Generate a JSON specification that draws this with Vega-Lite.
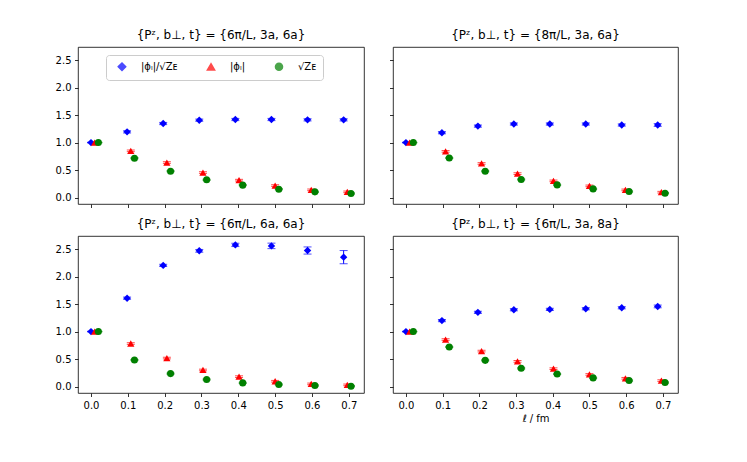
{
  "$schema": "https://vega.github.io/schema/vega-lite/v6.json",
  "padding": {"left": 54, "top": 28, "right": 5, "bottom": 5},
  "background": "white",
  "config": {
    "font": "DejaVu Sans",
    "view": {"stroke": "#000000", "strokeWidth": 0.8},
    "axis": {"domain": false, "grid": false, "tickColor": "#000000", "tickSize": 3.5, "tickWidth": 0.8, "labelColor": "#000000", "labelFontSize": 10, "labelPadding": 3.5, "labelFont": "DejaVu Sans", "titleFont": "DejaVu Sans", "titleFontWeight": "normal", "titleFontSize": 10, "titleColor": "#000000"},
    "title": {"font": "DejaVu Sans", "fontSize": 12, "fontWeight": "normal", "color": "#000000", "offset": 5}
  },
  "data": {"values": [
    {"p":"a","s":"r","x":0,"y":1.0,"e":0.005},{"p":"a","s":"r","x":0.098,"y":1.195,"e":0.02},{"p":"a","s":"r","x":0.196,"y":1.347,"e":0.02},{"p":"a","s":"r","x":0.294,"y":1.408,"e":0.02},{"p":"a","s":"r","x":0.392,"y":1.42,"e":0.02},{"p":"a","s":"r","x":0.49,"y":1.42,"e":0.02},{"p":"a","s":"r","x":0.588,"y":1.414,"e":0.02},{"p":"a","s":"r","x":0.686,"y":1.414,"e":0.02},
    {"p":"a","s":"p","x":0.01,"y":1.0,"e":0.005},{"p":"a","s":"p","x":0.108,"y":0.85,"e":0.015},{"p":"a","s":"p","x":0.206,"y":0.637,"e":0.015},{"p":"a","s":"p","x":0.304,"y":0.455,"e":0.015},{"p":"a","s":"p","x":0.402,"y":0.316,"e":0.015},{"p":"a","s":"p","x":0.5,"y":0.218,"e":0.015},{"p":"a","s":"p","x":0.598,"y":0.14,"e":0.015},{"p":"a","s":"p","x":0.696,"y":0.103,"e":0.015},
    {"p":"a","s":"z","x":0.02,"y":1.0,"e":0.005},{"p":"a","s":"z","x":0.118,"y":0.716,"e":0.01},{"p":"a","s":"z","x":0.216,"y":0.479,"e":0.01},{"p":"a","s":"z","x":0.314,"y":0.322,"e":0.01},{"p":"a","s":"z","x":0.412,"y":0.225,"e":0.01},{"p":"a","s":"z","x":0.51,"y":0.152,"e":0.01},{"p":"a","s":"z","x":0.608,"y":0.103,"e":0.01},{"p":"a","s":"z","x":0.706,"y":0.073,"e":0.01},
    {"p":"b","s":"r","x":0,"y":1.0,"e":0.005},{"p":"b","s":"r","x":0.098,"y":1.18,"e":0.02},{"p":"b","s":"r","x":0.196,"y":1.3,"e":0.02},{"p":"b","s":"r","x":0.294,"y":1.338,"e":0.02},{"p":"b","s":"r","x":0.392,"y":1.338,"e":0.02},{"p":"b","s":"r","x":0.49,"y":1.338,"e":0.02},{"p":"b","s":"r","x":0.588,"y":1.32,"e":0.02},{"p":"b","s":"r","x":0.686,"y":1.32,"e":0.025},
    {"p":"b","s":"p","x":0.01,"y":1.0,"e":0.005},{"p":"b","s":"p","x":0.108,"y":0.84,"e":0.015},{"p":"b","s":"p","x":0.206,"y":0.62,"e":0.015},{"p":"b","s":"p","x":0.304,"y":0.436,"e":0.015},{"p":"b","s":"p","x":0.402,"y":0.303,"e":0.015},{"p":"b","s":"p","x":0.5,"y":0.212,"e":0.015},{"p":"b","s":"p","x":0.598,"y":0.139,"e":0.015},{"p":"b","s":"p","x":0.696,"y":0.097,"e":0.015},
    {"p":"b","s":"z","x":0.02,"y":1.0,"e":0.005},{"p":"b","s":"z","x":0.118,"y":0.72,"e":0.01},{"p":"b","s":"z","x":0.216,"y":0.478,"e":0.01},{"p":"b","s":"z","x":0.314,"y":0.327,"e":0.01},{"p":"b","s":"z","x":0.412,"y":0.23,"e":0.01},{"p":"b","s":"z","x":0.51,"y":0.157,"e":0.01},{"p":"b","s":"z","x":0.608,"y":0.109,"e":0.01},{"p":"b","s":"z","x":0.706,"y":0.079,"e":0.01},
    {"p":"c","s":"r","x":0,"y":1.0,"e":0.005},{"p":"c","s":"r","x":0.098,"y":1.608,"e":0.02},{"p":"c","s":"r","x":0.196,"y":2.205,"e":0.02},{"p":"c","s":"r","x":0.294,"y":2.47,"e":0.025},{"p":"c","s":"r","x":0.392,"y":2.578,"e":0.03},{"p":"c","s":"r","x":0.49,"y":2.56,"e":0.05},{"p":"c","s":"r","x":0.588,"y":2.476,"e":0.065},{"p":"c","s":"r","x":0.686,"y":2.355,"e":0.12},
    {"p":"c","s":"p","x":0.01,"y":1.0,"e":0.005},{"p":"c","s":"p","x":0.108,"y":0.783,"e":0.015},{"p":"c","s":"p","x":0.206,"y":0.518,"e":0.015},{"p":"c","s":"p","x":0.304,"y":0.301,"e":0.015},{"p":"c","s":"p","x":0.402,"y":0.18,"e":0.015},{"p":"c","s":"p","x":0.5,"y":0.096,"e":0.015},{"p":"c","s":"p","x":0.598,"y":0.048,"e":0.015},{"p":"c","s":"p","x":0.696,"y":0.03,"e":0.015},
    {"p":"c","s":"z","x":0.02,"y":1.0,"e":0.005},{"p":"c","s":"z","x":0.118,"y":0.482,"e":0.01},{"p":"c","s":"z","x":0.216,"y":0.235,"e":0.01},{"p":"c","s":"z","x":0.314,"y":0.127,"e":0.01},{"p":"c","s":"z","x":0.412,"y":0.066,"e":0.01},{"p":"c","s":"z","x":0.51,"y":0.036,"e":0.01},{"p":"c","s":"z","x":0.608,"y":0.018,"e":0.01},{"p":"c","s":"z","x":0.706,"y":0.006,"e":0.01},
    {"p":"d","s":"r","x":0,"y":1.0,"e":0.005},{"p":"d","s":"r","x":0.098,"y":1.2,"e":0.02},{"p":"d","s":"r","x":0.196,"y":1.35,"e":0.02},{"p":"d","s":"r","x":0.294,"y":1.398,"e":0.02},{"p":"d","s":"r","x":0.392,"y":1.404,"e":0.02},{"p":"d","s":"r","x":0.49,"y":1.416,"e":0.02},{"p":"d","s":"r","x":0.588,"y":1.434,"e":0.02},{"p":"d","s":"r","x":0.686,"y":1.458,"e":0.025},
    {"p":"d","s":"p","x":0.01,"y":1.0,"e":0.005},{"p":"d","s":"p","x":0.108,"y":0.855,"e":0.015},{"p":"d","s":"p","x":0.206,"y":0.645,"e":0.015},{"p":"d","s":"p","x":0.304,"y":0.458,"e":0.015},{"p":"d","s":"p","x":0.402,"y":0.325,"e":0.015},{"p":"d","s":"p","x":0.5,"y":0.22,"e":0.015},{"p":"d","s":"p","x":0.598,"y":0.15,"e":0.015},{"p":"d","s":"p","x":0.696,"y":0.108,"e":0.015},
    {"p":"d","s":"z","x":0.02,"y":1.0,"e":0.005},{"p":"d","s":"z","x":0.118,"y":0.72,"e":0.01},{"p":"d","s":"z","x":0.216,"y":0.476,"e":0.01},{"p":"d","s":"z","x":0.314,"y":0.331,"e":0.01},{"p":"d","s":"z","x":0.412,"y":0.229,"e":0.01},{"p":"d","s":"z","x":0.51,"y":0.157,"e":0.01},{"p":"d","s":"z","x":0.608,"y":0.108,"e":0.01},{"p":"d","s":"z","x":0.706,"y":0.072,"e":0.01}
  ]},
  "columns": 2,
  "spacing": {"row": 8, "column": 23},
  "resolve": {
    "scale": {"x": "independent", "y": "independent", "color": "independent", "shape": "independent", "size": "independent"},
    "legend": {"color": "independent", "shape": "independent", "size": "independent"}
  },
  "concat": [
    {
      "title": {"text": "{Pᶻ, b⊥, t} = {6π/L, 3a, 6a}"},
      "width": 286, "height": 157,
      "transform": [{"filter": "datum.p == 'a'"}],
      "encoding": {
        "x": {"field": "x", "type": "quantitative", "scale": {"domain": [-0.0353, 0.7413], "nice": false, "zero": false}, "axis": {"values": [0, 0.1, 0.2, 0.3, 0.4, 0.5, 0.6, 0.7], "labels": false, "title": null, "minExtent": 4, "maxExtent": 4}},
        "y": {"field": "y", "type": "quantitative", "scale": {"domain": [-0.118, 2.74], "nice": false, "zero": false}, "axis": {"values": [0, 0.5, 1, 1.5, 2, 2.5], "format": ".1f", "title": null, "minExtent": 20, "maxExtent": 20}}
      },
      "layer": [
        {"mark": {"type": "errorbar", "ticks": {"size": 8, "thickness": 1}, "rule": {"strokeWidth": 1}},
         "encoding": {"yError": {"field": "e"}, "color": {"field": "s", "type": "nominal", "scale": {"domain": ["r", "p", "z"], "range": ["#0000ff", "#ff0000", "#008000"]}}}},
        {"mark": {"type": "point", "filled": true, "opacity": 1},
         "encoding": {
           "size": {"field": "s", "type": "nominal", "scale": {"domain": ["r", "p", "z"], "range": [55, 50, 36]}, "legend": null},
           "color": {"field": "s", "type": "nominal", "scale": {"domain": ["r", "p", "z"], "range": ["#0000ff", "#ff0000", "#008000"]},
             "legend": {"orient": "none", "legendX": 28, "legendY": 8, "direction": "horizontal", "columns": 3, "title": null, "fillColor": "white", "strokeColor": "#cccccc", "cornerRadius": 3, "padding": 6.5, "labelFontSize": 10, "labelFont": "DejaVu Sans", "labelColor": "#000000", "symbolSize": 36, "symbolOpacity": 1, "columnPadding": 24, "labelOffset": 14, "symbolOffset": 4.5, "labelExpr": "datum.label == 'r' ? '|ϕₗ|/√Zᴇ' : datum.label == 'p' ? '|ϕₗ|' : '√Zᴇ'"}},
           "shape": {"field": "s", "type": "nominal", "scale": {"domain": ["r", "p", "z"], "range": ["diamond", "triangle-up", "circle"]},
             "legend": {"orient": "none", "legendX": 28, "legendY": 8, "direction": "horizontal", "columns": 3, "title": null, "fillColor": "white", "strokeColor": "#cccccc", "cornerRadius": 3, "padding": 6.5, "labelFontSize": 10, "labelFont": "DejaVu Sans", "labelColor": "#000000", "symbolSize": 36, "symbolOpacity": 1, "columnPadding": 24, "labelOffset": 14, "symbolOffset": 4.5, "labelExpr": "datum.label == 'r' ? '|ϕₗ|/√Zᴇ' : datum.label == 'p' ? '|ϕₗ|' : '√Zᴇ'"}}
         }}
      ]
    },
    {
      "title": {"text": "{Pᶻ, b⊥, t} = {8π/L, 3a, 6a}"},
      "width": 285, "height": 157,
      "transform": [{"filter": "datum.p == 'b'"}],
      "encoding": {
        "x": {"field": "x", "type": "quantitative", "scale": {"domain": [-0.0353, 0.7413], "nice": false, "zero": false}, "axis": {"values": [0, 0.1, 0.2, 0.3, 0.4, 0.5, 0.6, 0.7], "labels": false, "title": null, "minExtent": 4, "maxExtent": 4}},
        "y": {"field": "y", "type": "quantitative", "scale": {"domain": [-0.118, 2.74], "nice": false, "zero": false}, "axis": {"values": [0, 0.5, 1, 1.5, 2, 2.5], "labels": false, "title": null, "minExtent": 4, "maxExtent": 4}},
        "color": {"field": "s", "type": "nominal", "scale": {"domain": ["r", "p", "z"], "range": ["#0000ff", "#ff0000", "#008000"]}, "legend": null}
      },
      "layer": [
        {"mark": {"type": "errorbar", "ticks": {"size": 8, "thickness": 1}, "rule": {"strokeWidth": 1}}, "encoding": {"yError": {"field": "e"}}},
        {"mark": {"type": "point", "filled": true, "opacity": 1},
         "encoding": {"shape": {"field": "s", "type": "nominal", "scale": {"domain": ["r", "p", "z"], "range": ["diamond", "triangle-up", "circle"]}, "legend": null},
                      "size": {"field": "s", "type": "nominal", "scale": {"domain": ["r", "p", "z"], "range": [55, 50, 36]}, "legend": null}}}
      ]
    },
    {
      "title": {"text": "{Pᶻ, b⊥, t} = {6π/L, 6a, 6a}"},
      "width": 286, "height": 157,
      "transform": [{"filter": "datum.p == 'c'"}],
      "encoding": {
        "x": {"field": "x", "type": "quantitative", "scale": {"domain": [-0.0353, 0.7413], "nice": false, "zero": false}, "axis": {"values": [0, 0.1, 0.2, 0.3, 0.4, 0.5, 0.6, 0.7], "format": ".1f", "title": null}},
        "y": {"field": "y", "type": "quantitative", "scale": {"domain": [-0.118, 2.74], "nice": false, "zero": false}, "axis": {"values": [0, 0.5, 1, 1.5, 2, 2.5], "format": ".1f", "title": null, "minExtent": 20, "maxExtent": 20}},
        "color": {"field": "s", "type": "nominal", "scale": {"domain": ["r", "p", "z"], "range": ["#0000ff", "#ff0000", "#008000"]}, "legend": null}
      },
      "layer": [
        {"mark": {"type": "errorbar", "ticks": {"size": 8, "thickness": 1}, "rule": {"strokeWidth": 1}}, "encoding": {"yError": {"field": "e"}}},
        {"mark": {"type": "point", "filled": true, "opacity": 1},
         "encoding": {"shape": {"field": "s", "type": "nominal", "scale": {"domain": ["r", "p", "z"], "range": ["diamond", "triangle-up", "circle"]}, "legend": null},
                      "size": {"field": "s", "type": "nominal", "scale": {"domain": ["r", "p", "z"], "range": [55, 50, 36]}, "legend": null}}}
      ]
    },
    {
      "title": {"text": "{Pᶻ, b⊥, t} = {6π/L, 3a, 8a}"},
      "width": 285, "height": 157,
      "transform": [{"filter": "datum.p == 'd'"}],
      "encoding": {
        "x": {"field": "x", "type": "quantitative", "scale": {"domain": [-0.0353, 0.7413], "nice": false, "zero": false}, "axis": {"values": [0, 0.1, 0.2, 0.3, 0.4, 0.5, 0.6, 0.7], "format": ".1f", "title": "ℓ / fm", "titlePadding": 3}},
        "y": {"field": "y", "type": "quantitative", "scale": {"domain": [-0.118, 2.74], "nice": false, "zero": false}, "axis": {"values": [0, 0.5, 1, 1.5, 2, 2.5], "labels": false, "title": null, "minExtent": 4, "maxExtent": 4}},
        "color": {"field": "s", "type": "nominal", "scale": {"domain": ["r", "p", "z"], "range": ["#0000ff", "#ff0000", "#008000"]}, "legend": null}
      },
      "layer": [
        {"mark": {"type": "errorbar", "ticks": {"size": 8, "thickness": 1}, "rule": {"strokeWidth": 1}}, "encoding": {"yError": {"field": "e"}}},
        {"mark": {"type": "point", "filled": true, "opacity": 1},
         "encoding": {"shape": {"field": "s", "type": "nominal", "scale": {"domain": ["r", "p", "z"], "range": ["diamond", "triangle-up", "circle"]}, "legend": null},
                      "size": {"field": "s", "type": "nominal", "scale": {"domain": ["r", "p", "z"], "range": [55, 50, 36]}, "legend": null}}}
      ]
    }
  ]
}
